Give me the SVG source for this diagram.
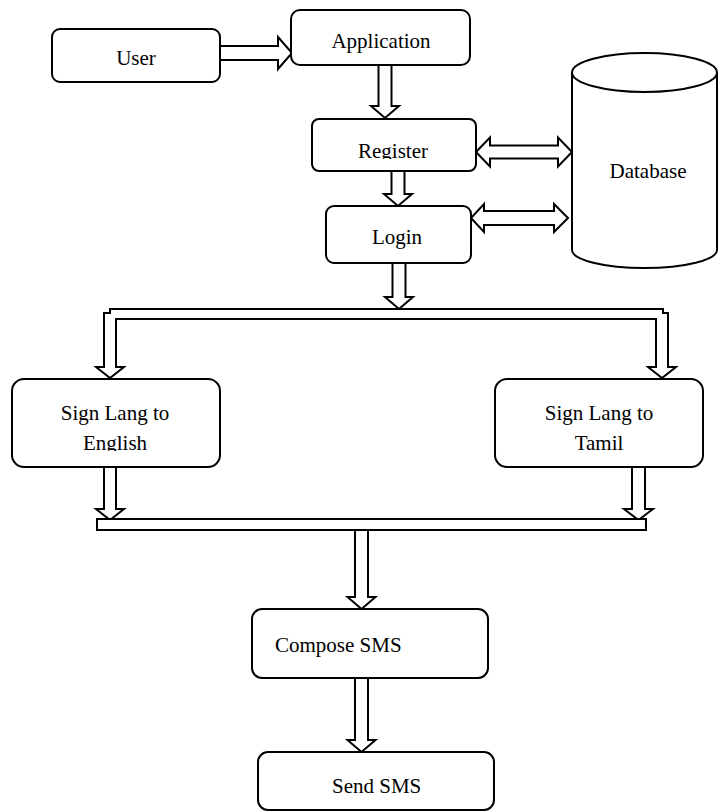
<svg xmlns="http://www.w3.org/2000/svg" width="720" height="812" viewBox="0 0 720 812">
<style>
.box{fill:#fff;stroke:#000;stroke-width:2}
.arr{fill:#fff;stroke:#000;stroke-width:2;stroke-linejoin:miter}
.t{font-family:"Liberation Serif","Times New Roman",serif;font-size:21px;fill:#000}
.c{text-anchor:middle}
</style>
<defs>
<clipPath id="clipReg"><rect x="312" y="119" width="164" height="40"/></clipPath>
<clipPath id="clipEng"><rect x="12" y="379" width="208" height="72"/></clipPath>
</defs>
<rect width="720" height="812" fill="#fff"/>
<g id="connectors">
<polygon class="arr" points="220,46 278,46 278,37 292,53 278,69 278,60 220,60"/>
<polygon class="arr" points="378.5,65 391.5,65 391.5,106 399,106 385,118 371,106 378.5,106"/>
<polygon class="arr" points="391.5,171 404.5,171 404.5,194 412,194 398,206 384,194 391.5,194"/>
<polygon class="arr" points="476,152 490,137.5 490,145.5 558,145.5 558,137.5 572,152 558,166.5 558,158.5 490,158.5 490,166.5"/>
<polygon class="arr" points="471,218 484,204 484,211 554,211 554,204 568,218 554,232 554,225 484,225 484,232"/>
<polygon class="arr" points="392.5,263 405.5,263 405.5,297 413,297 399,309 385,297 392.5,297"/>
<path class="arr" d="M110,378 L96,367 L104,367 L104,313 L110,313 L110,309 L663,309 L663,313 L668,313 L668,367 L676,367 L662,378 L648,367 L656,367 L656,319 L116,319 L116,367 L124,367 Z"/>
<polygon class="arr" points="104,467 116,467 116,509 124,509 110,520 96,509 104,509"/>
<polygon class="arr" points="632,467 645,467 645,509 653,509 638.5,520 624,509 632,509"/>
<rect class="arr" x="97" y="519" width="549" height="11"/>
<polygon class="arr" points="355,530 368,530 368,597 375.5,597 361.5,609 347.5,597 355,597"/>
<polygon class="arr" points="355,678 368,678 368,740 375.5,740 361.5,752 347.5,740 355,740"/>
</g>
<g id="user">
<rect class="box" x="52" y="29" width="168" height="53" rx="8"/>
<text class="t c" x="136" y="65">User</text>
</g>
<g id="application">
<rect class="box" x="291" y="10" width="179" height="55" rx="9"/>
<text class="t c" x="381" y="48">Application</text>
</g>
<g id="register">
<rect class="box" x="312" y="119" width="164" height="52" rx="7"/>
<text class="t c" x="393" y="158" clip-path="url(#clipReg)">Register</text>
</g>
<g id="login">
<rect class="box" x="326" y="206" width="145" height="57" rx="8"/>
<text class="t c" x="397" y="244">Login</text>
</g>
<g id="database">
<path class="box" d="M572,72.5 L572,250 A72.5,18 0 0 0 717,250 L717,72.5"/>
<ellipse class="box" cx="644.5" cy="72.5" rx="72.5" ry="19.5"/>
<text class="t c" x="648" y="178">Database</text>
</g>
<g id="sign-english">
<rect class="box" x="12" y="379" width="208" height="88" rx="12"/>
<text class="t c" x="115" y="420">Sign Lang to</text>
<text class="t c" x="115" y="450" clip-path="url(#clipEng)">English</text>
</g>
<g id="sign-tamil">
<rect class="box" x="495" y="379" width="208" height="88" rx="12"/>
<text class="t c" x="599" y="420">Sign Lang to</text>
<text class="t c" x="599" y="450">Tamil</text>
</g>
<g id="compose">
<rect class="box" x="252" y="609" width="236" height="69" rx="10"/>
<text class="t" x="275" y="652">Compose SMS</text>
</g>
<g id="send">
<rect class="box" x="258" y="752" width="236" height="58" rx="10"/>
<text class="t" x="332" y="793">Send SMS</text>
</g>
</svg>
